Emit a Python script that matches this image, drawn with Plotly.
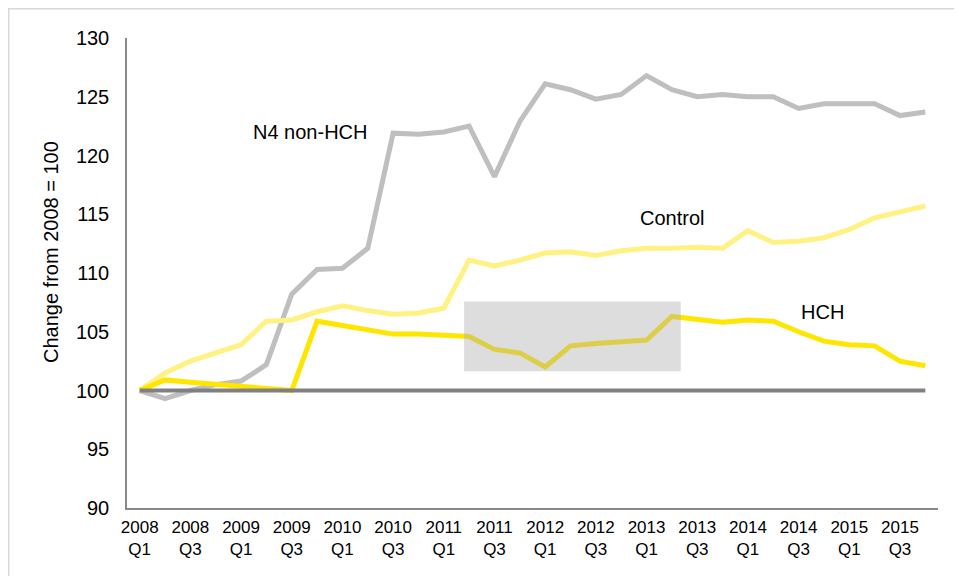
import plotly.graph_objects as go

# Quarters 2008 Q1 .. 2015 Q4
quarters = [f"{y} Q{q}" for y in range(2008, 2016) for q in range(1, 5)]
tick_labels = [f"{y}<br>Q{q}" for y in range(2008, 2016) for q in (1, 3)]

# Index values (2008 = 100)
n4_non_hch = [100.0, 99.3, 100.0, 100.5, 100.8, 102.2, 108.2, 110.3, 110.4, 112.1,
              121.9, 121.8, 122.0, 122.5, 118.2, 122.9, 126.1, 125.6, 124.8, 125.2,
              126.8, 125.6, 125.0, 125.2, 125.0, 125.0, 124.0, 124.4, 124.4, 124.4,
              123.4, 123.7]
control = [100.0, 101.5, 102.5, 103.2, 103.9, 105.9, 106.0, 106.7, 107.2, 106.8,
           106.5, 106.6, 107.0, 111.1, 110.6, 111.1, 111.7, 111.8, 111.5, 111.9,
           112.1, 112.1, 112.2, 112.1, 113.6, 112.6, 112.7, 113.0, 113.7, 114.7,
           115.2, 115.7]
hch = [100.0, 100.9, 100.7, 100.5, 100.4, 100.2, 100.0, 105.9, 105.5, 105.1,
       104.8, 104.8, 104.7, 104.6, 103.5, 103.2, 102.0, 103.8, 104.0, 104.1,
       104.3, 106.3, 106.1, 105.8, 106.0, 105.9, 105.0, 104.2, 103.9, 103.8,
       102.5, 102.1]
baseline = [100] * len(quarters)

x = list(range(len(quarters)))

fig = go.Figure()
fig.add_trace(go.Scatter(x=x, y=n4_non_hch, mode="lines", name="N4 non-HCH",
                         line=dict(color="#bfbfbf", width=5)))
fig.add_trace(go.Scatter(x=x, y=control, mode="lines", name="Control",
                         line=dict(color="#fff282", width=5)))
fig.add_trace(go.Scatter(x=x, y=hch, mode="lines", name="HCH",
                         line=dict(color="#ffe600", width=5)))
fig.add_trace(go.Scatter(x=x, y=baseline, mode="lines", name="Baseline",
                         line=dict(color="#808080", width=4)))

# shaded box over the 2011-2013 dip
fig.add_shape(type="rect", xref="x", yref="y", x0=12.8, x1=21.35, y0=101.64, y1=107.57,
              fillcolor="rgba(175,175,175,0.42)", line=dict(width=0), layer="above")

# plot area in figure pixels (page body adds an 8px offset)
L, T, W, H = 119, 30, 811, 470

# outer frame
fig.add_shape(type="rect", xref="paper", yref="paper",
              x0=(0.75 - L) / W, x1=1.2, y0=(T + H - 0.75) / H, y1=-0.5,
              line=dict(color="#d9d9d9", width=1.5), layer="below")

font = "Liberation Sans, Arial, sans-serif"
labels = [("N4 non-HCH", 6.72, 121.96), ("Control", 21.0, 114.7), ("HCH", 26.93, 106.7)]
for txt, lx, ly in labels:
    fig.add_annotation(x=lx, y=ly, text=txt, showarrow=False,
                       font=dict(family=font, size=20, color="#000000"))

fig.add_annotation(x=(30 - L) / W, y=(T + H - 244) / H, xref="paper", yref="paper",
                   text="Change from 2008 = 100", textangle=-90, showarrow=False,
                   font=dict(family=font, size=20, color="#000000"))

fig.update_layout(
    width=954, height=568,
    margin=dict(l=L, r=954 - L - W, t=T, b=568 - T - H),
    plot_bgcolor="white", paper_bgcolor="white",
    showlegend=False,
    font=dict(family=font, color="#000000"),
    xaxis=dict(range=[-0.5, 31.5], tickvals=list(range(0, 32, 2)), ticktext=tick_labels,
               showgrid=False, zeroline=False, showline=True, linecolor="#898989", linewidth=1.5,
               ticks="outside", ticklen=3, tickcolor="rgba(0,0,0,0)",
               tickfont=dict(size=17, family=font)),
    yaxis=dict(range=[90, 130], tickvals=list(range(90, 131, 5)),
               showgrid=False, zeroline=False, showline=True, linecolor="#898989", linewidth=1.5,
               ticks="outside", ticklen=12, tickcolor="rgba(0,0,0,0)",
               tickfont=dict(size=20, family=font)),
)

fig.write_html("out.html")
